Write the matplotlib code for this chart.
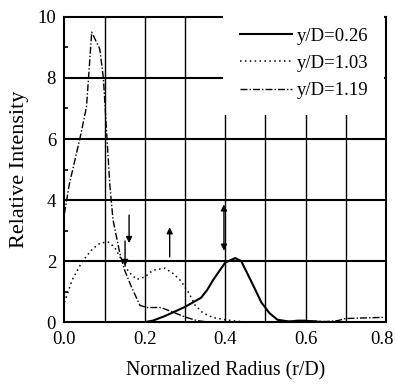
import matplotlib
matplotlib.use("Agg")
import matplotlib.pyplot as plt
from matplotlib.patches import Rectangle
from matplotlib.transforms import ScaledTranslation
import numpy as np

plt.rcParams['font.family'] = ['Liberation Serif', 'DejaVu Serif']

# y/D = 0.26 (solid)
x_026 = [0.0, 0.1, 0.2, 0.22, 0.25, 0.27, 0.30, 0.34, 0.355, 0.37, 0.40, 0.425, 0.44, 0.47,
         0.49, 0.51, 0.53, 0.56, 0.58, 0.60, 0.62, 0.65, 0.7, 0.8]
y_026 = [0.0, 0.0, 0.0, 0.05, 0.2, 0.32, 0.5, 0.8, 1.05, 1.38, 1.95, 2.1, 2.0, 1.2,
         0.65, 0.3, 0.08, 0.02, 0.05, 0.05, 0.02, 0.0, 0.0, 0.0]

# y/D = 1.03 (dotted)
x_103 = [0.0, 0.02, 0.045, 0.07, 0.09, 0.11, 0.125, 0.14, 0.16, 0.18, 0.2, 0.22, 0.25,
         0.27, 0.29, 0.31, 0.325, 0.345, 0.37, 0.40, 0.43, 0.46, 0.5, 0.6, 0.7, 0.8]
y_103 = [0.65, 1.4, 2.0, 2.4, 2.6, 2.62, 2.45, 2.1, 1.65, 1.4, 1.48, 1.7, 1.77,
         1.6, 1.35, 0.95, 0.56, 0.3, 0.15, 0.08, 0.03, 0.0, 0.0, 0.0, 0.0, 0.0]

# y/D = 1.19 (dash-dot)
x_119 = [0.0, 0.012, 0.04, 0.055, 0.068, 0.088, 0.097, 0.113, 0.121, 0.138, 0.15, 0.167,
         0.188, 0.205, 0.24, 0.27, 0.30, 0.33, 0.36, 0.5, 0.55, 0.6, 0.65, 0.68, 0.70, 0.75, 0.8]
y_119 = [3.55, 4.5, 6.1, 7.05, 9.5, 8.95, 8.0, 4.5, 3.35, 2.25, 1.7, 1.15,
         0.55, 0.48, 0.48, 0.33, 0.17, 0.05, 0.0, 0.0, 0.02, 0.05, 0.02, 0.05, 0.12, 0.14, 0.16]

labels = ['y/D=0.26', 'y/D=1.03', 'y/D=1.19']
x_ticks = [0.0, 0.2, 0.4, 0.6, 0.8]
x_ticklabels = ['0.0', '0.2', '0.4', '0.6', '0.8']
y_ticks = [0, 2, 4, 6, 8, 10]

fig = plt.figure(figsize=(3.95, 3.84), dpi=100)
ax = fig.add_axes([0.163, 0.161, 0.814, 0.795])
ax.set_xlim(0, 0.8)
ax.set_ylim(0, 10)

# grid
for gx in np.arange(0.1, 0.8, 0.1):
    ax.axvline(gx, color='black', lw=1.0, zorder=1)
for gy in [2, 4, 6, 8]:
    ax.axhline(gy, color='black', lw=1.5, zorder=1)

ax.plot(x_026, y_026, color='black', lw=1.5, ls='-', label=labels[0], zorder=4)
ax.plot(x_103, y_103, color='black', lw=1.1, ls=(0, (1, 2.2)), label=labels[1], zorder=4)
ax.plot(x_119, y_119, color='black', lw=1.0, ls=(0, (5, 1.5, 1, 1.5)), label=labels[2], zorder=4)

# white box behind legend
ax.add_patch(Rectangle((0.494, 0.68), 0.5, 0.34, transform=ax.transAxes,
                       facecolor='white', edgecolor='none', zorder=3, clip_on=False))

# arrows
akw = dict(arrowstyle='-|>', color='black', lw=1.0, mutation_scale=9)
ax.annotate('', xy=(0.161, 2.5), xytext=(0.161, 3.6), arrowprops=akw, zorder=5)
ax.annotate('', xy=(0.151, 1.75), xytext=(0.151, 2.75), arrowprops=akw, zorder=5)
ax.annotate('', xy=(0.262, 3.2), xytext=(0.262, 2.05), arrowprops=akw, zorder=5)
ax.annotate('', xy=(0.397, 3.95), xytext=(0.397, 2.25),
            arrowprops=dict(arrowstyle='<|-|>', color='black', lw=1.0, mutation_scale=9), zorder=5)

leg = ax.legend(loc='upper left', bbox_to_anchor=(0.522, 0.99), frameon=False,
                fontsize=13.5, handlelength=2.8, handletextpad=0.27, labelspacing=0.55,
                borderaxespad=0.0)
leg.set_zorder(6)

for s in ax.spines.values():
    s.set_linewidth(1.5)

ax.set_xticks(x_ticks)
ax.set_xticklabels(x_ticklabels)
ax.set_yticks(y_ticks)
ax.set_yticks([1, 3, 5, 7, 9], minor=True)
ax.tick_params(axis='both', which='major', length=0, labelsize=13.5, pad=6)
ax.tick_params(axis='y', which='minor', direction='in', length=3, width=1.2)
last = ax.get_xticklabels()[-1]
last.set_transform(last.get_transform() + ScaledTranslation(-4 / 100, 0, fig.dpi_scale_trans))

ax.set_xlabel('Normalized Radius (r/D)', fontsize=14.3, labelpad=10)
ax.set_ylabel('Relative Intensity', fontsize=16, labelpad=6)

fig.savefig('out.png', dpi=100)
